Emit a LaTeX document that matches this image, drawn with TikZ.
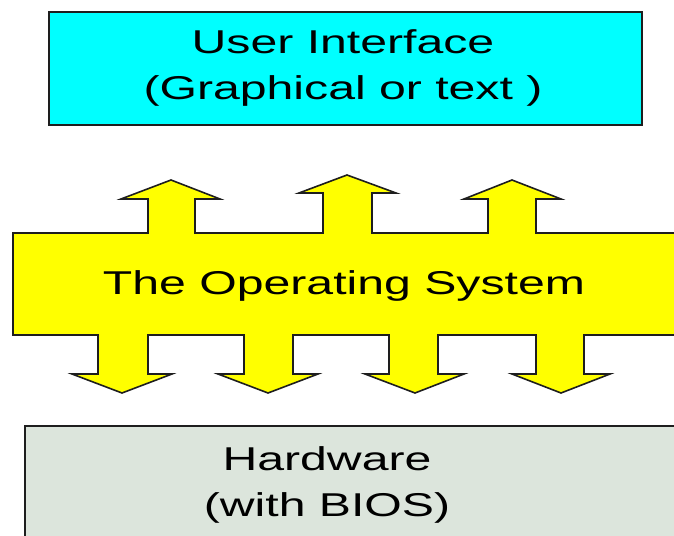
\documentclass[tikz,border=0pt]{standalone}
\usepackage{fontspec}
\setmainfont[FakeStretch=1.46]{Liberation Sans}
\definecolor{uicyan}{RGB}{0,255,255}
\definecolor{osyellow}{RGB}{255,255,0}
\definecolor{hwgray}{RGB}{220,229,220}
\definecolor{edge}{RGB}{30,30,30}
\begin{document}
\begin{tikzpicture}[x=1pt,y=-1pt,
  boxline/.style={draw=edge, line width=1.6pt},
  txt/.style={font=\fontsize{33}{46}\selectfont, anchor=base, inner sep=0pt}]
\useasboundingbox (0,0) rectangle (674,535);
\clip (0,0) rectangle (674,535);
% user interface box
\node[boxline, fill=uicyan, minimum width=593pt, minimum height=113pt,
      inner sep=0pt, anchor=north west] (ui) at (48,11) {};
% hardware box
\node[boxline, fill=hwgray, minimum width=700pt, minimum height=150pt,
      inner sep=0pt, anchor=north west] (hw) at (24,425) {};
% operating system shape with arrows
\draw[boxline, fill=osyellow, line join=miter]
  (13,233) -- (148,233) -- (148,199) -- (121,199) -- (171,180) -- (220,199)
  -- (195,199) -- (195,233) -- (323,233) -- (323,193) -- (299,193)
  -- (347,175) -- (396,193) -- (372,193) -- (372,233) -- (488,233)
  -- (488,199) -- (464,199) -- (512,180) -- (561,199) -- (536,199)
  -- (536,233) -- (700,233) -- (700,335) -- (584,335) -- (584,374)
  -- (610,374) -- (561,393) -- (512,374) -- (536,374) -- (536,335)
  -- (438,335) -- (438,374) -- (464,374) -- (415,393) -- (365,374)
  -- (389,374) -- (389,335) -- (293,335) -- (293,374) -- (318,374)
  -- (268,393) -- (218,374) -- (244,374) -- (244,335) -- (148,335)
  -- (148,374) -- (172,374) -- (122,393) -- (72,374) -- (98,374)
  -- (98,335) -- (13,335) -- cycle;
% texts
\node[txt] (ui1) at (343,53) {User Interface};
\node[txt] (ui2) at (343,99) {(Graphical or text )};
\node[txt] (os) at (344,294) {The Operating System};
\node[txt] (hw1) at (327,470) {Hardware};
\node[txt] (hw2) at (327,516) {(with BIOS)};
\end{tikzpicture}
\end{document}
